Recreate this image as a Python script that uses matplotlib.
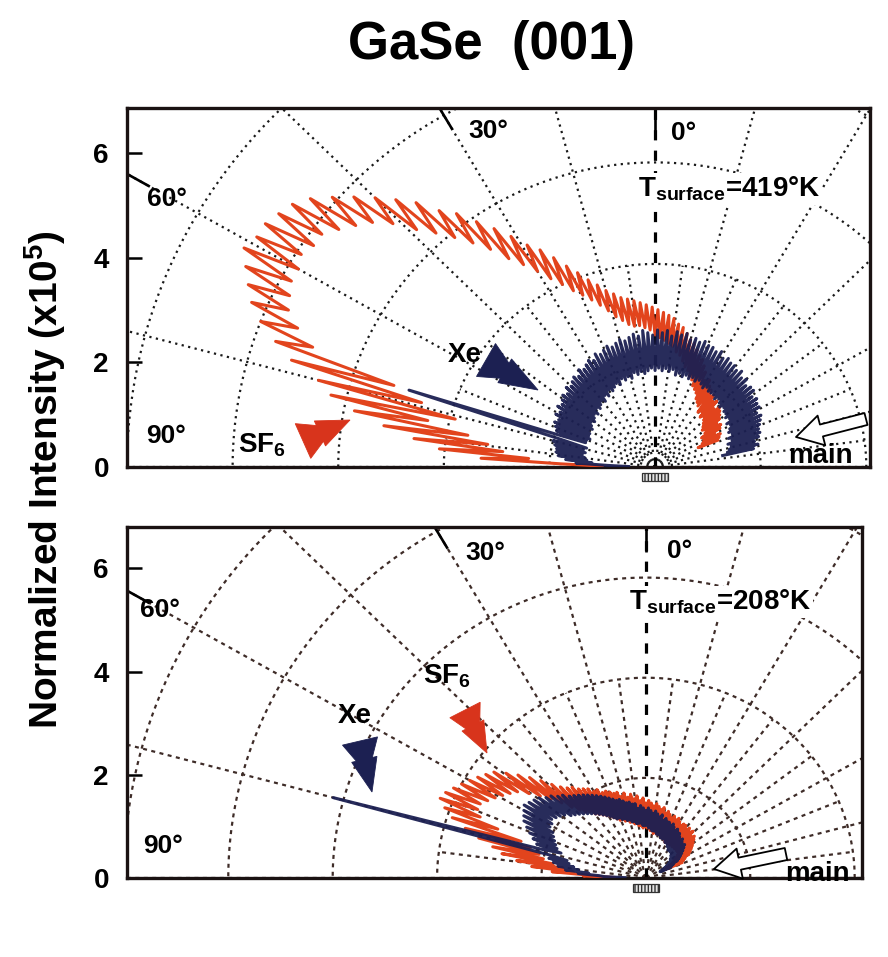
#!/usr/bin/env python3
"""plot.py – Xe / SF6 angular distributions scattered from GaSe(001).

Two polar lobes drawn on a rectangular frame, one panel per surface
temperature.  Values were read off the scanned figure by eye.
"""

import numpy as np
import matplotlib
matplotlib.use("Agg")
import matplotlib.pyplot as plt
from matplotlib.patches import Polygon, Rectangle, FancyArrowPatch

# --------------------------------------------------------------------------- #
# Data: angle from the surface normal (deg, + towards the 90 deg side) and   #
# scattered intensity in grid units (x10^5), one sample per degree.          #
# --------------------------------------------------------------------------- #
THETA_419_SF6 = np.arange(-66, 90)
R_419_SF6 = [
    1.3, 0.9, 1.35, 1.0, 1.4, 1.05, 1.3, 1.1, 1.45, 1.05, 1.5, 1.15, 1.45, 1.2, 1.55, 1.15,
    1.6, 1.2, 1.65, 1.25, 1.7, 1.3, 1.6, 1.35, 1.75, 1.3, 1.7, 1.4, 1.8, 1.35, 1.75,
    1.85, 1.45, 1.9, 1.5, 2.0, 1.55, 1.95, 1.65, 2.1, 1.7, 2.2, 1.75, 2.3, 1.85, 2.35,
    1.9, 2.45, 2.0, 2.55, 2.05, 2.6, 2.15, 2.7, 2.25, 2.8, 2.3, 2.85, 2.4, 2.95, 2.45,
    3.0, 2.5, 3.05, 2.55, 3.1, 2.6, 3.15, 2.7, 3.2, 2.75, 3.25, 2.8, 3.3, 2.8, 3.35,
    2.85, 3.4, 2.95, 3.5, 3.05, 3.6, 3.2, 3.75, 3.35, 3.9, 3.5, 4.1, 3.65, 4.3, 3.8,
    4.55, 4.0, 4.8, 4.2, 5.0, 4.45, 5.3, 4.7, 5.6, 4.95, 5.9, 5.3, 6.25, 5.6, 6.5,
    5.9, 6.9, 6.2, 7.2, 6.5, 7.5, 6.9, 7.8, 7.2, 8.1, 7.4, 8.4, 7.6, 8.6, 7.8,
    8.7, 7.8, 8.8, 7.9, 8.8, 7.8, 8.9, 7.8, 8.7, 7.7, 8.5, 7.6, 8.3, 7.3, 8.0,
    6.9, 7.6, 5.2, 7.2, 4.6, 6.6, 3.9, 6.3, 4.4, 5.8,
    3.6, 5.2, 3.2, 4.6, 2.9, 4.1, 2.4, 3.3, 1.8, 1.0,
]

THETA_419_XE = np.arange(-80, 90)
R_419_XE = [
    1.3, 1.9, 1.4, 2.0, 1.45, 1.95, 1.5, 2.05, 1.45, 2.1, 1.55, 2.1, 1.5, 2.15, 1.6,
    2.2, 1.55, 2.25, 1.6, 2.2, 1.65, 2.3, 1.6, 2.3, 1.7, 2.35, 1.65, 2.3, 1.7, 2.4,
    1.7, 2.4, 1.75, 2.35, 1.7, 2.45, 1.75, 2.4, 1.8, 2.5, 1.75, 2.45, 1.8, 2.5, 1.8,
    2.5, 1.8, 2.55, 1.85, 2.5, 1.8, 2.6, 1.85, 2.55, 1.9, 2.6, 1.85, 2.6, 1.9, 2.65,
    1.85, 2.6, 1.9, 2.65, 1.85, 2.6, 1.9, 2.7, 1.85, 2.65, 1.95, 2.7, 1.9, 2.6, 1.95,
    2.7, 1.9, 2.65, 1.95, 2.7, 1.9, 2.6, 1.95, 2.65, 1.9, 2.7, 1.85, 2.6, 1.9, 2.65,
    1.85, 2.6, 1.9, 2.55, 1.8, 2.6, 1.85, 2.55, 1.8, 2.5, 1.85, 2.55, 1.75, 2.5, 1.8,
    2.45, 1.75, 2.5, 1.7, 2.4, 1.75, 2.45, 1.65, 2.4, 1.7, 2.35, 1.6, 2.4, 1.65, 2.3,
    1.6, 2.35, 1.55, 2.3, 1.6, 2.25, 1.5, 2.3, 1.55, 2.2, 1.5, 2.25, 1.45, 2.2, 1.5,
    2.15, 1.45, 2.2, 1.4, 2.1, 1.45, 2.15, 1.4, 2.05, 1.4, 2.1, 1.35, 2.05, 1.4, 2.0,
    1.4, 2.0, 4.9, 1.9, 1.35, 2.0, 1.4, 1.95, 1.35, 1.9,
    1.4, 1.9, 1.35, 1.85, 1.3, 1.7, 1.2, 1.5, 0.9, 0.5,
]

THETA_208_SF6 = np.arange(-66, 90)
R_208_SF6 = [
    0.75, 0.4, 0.8, 0.45, 0.85, 0.55, 0.95, 0.6, 1.0, 0.65, 1.05, 0.7, 1.1, 0.75, 1.15, 0.8,
    1.2, 0.8, 1.25, 0.8, 1.2, 0.85, 1.3, 0.8, 1.25, 0.85, 1.3, 0.8, 1.25, 0.85, 1.3,
    0.8, 1.3, 0.85, 1.25, 0.8, 1.3, 0.85, 1.35, 0.8, 1.3, 0.85, 1.35, 0.85, 1.3, 0.9,
    1.35, 0.85, 1.4, 0.9, 1.35, 0.9, 1.45, 0.9, 1.4, 0.95, 1.45, 0.9, 1.5, 0.95, 1.45,
    0.95, 1.5, 1.0, 1.55, 1.0, 1.5, 1.05, 1.6, 1.0, 1.55, 1.05, 1.65, 1.05, 1.6, 1.1,
    1.7, 1.1, 1.65, 1.15, 1.75, 1.15, 1.7, 1.2, 1.8, 1.2, 1.8, 1.25, 1.85, 1.25, 1.9,
    1.3, 1.9, 1.35, 2.0, 1.4, 2.0, 1.45, 2.1, 1.5, 2.15, 1.55, 2.2, 1.6, 2.3, 1.7,
    2.35, 1.75, 2.45, 1.85, 2.6, 2.0, 2.8, 2.2, 3.0, 2.4, 3.2, 2.6, 3.4, 2.8, 3.6,
    3.0, 3.7, 3.1, 3.8, 3.2, 3.9, 3.3, 4.0, 3.4, 4.1, 3.5, 4.2, 3.5, 4.25, 3.4,
    4.1, 3.0, 3.9, 2.5, 3.6, 2.3, 3.3, 2.1, 3.0, 2.0,
    2.8, 1.8, 2.5, 1.6, 2.2, 1.4, 1.8, 1.1, 1.2, 0.6,
]

THETA_208_XE = np.arange(-66, 90)
R_208_XE = [
    0.5, 0.3, 0.55, 0.35, 0.6, 0.4, 0.7, 0.45, 0.75, 0.5, 0.8, 0.55, 0.85, 0.6, 0.9, 0.6,
    0.95, 0.65, 1.0, 0.65, 0.95, 0.7, 1.0, 0.7, 1.05, 0.7, 1.0, 0.75, 1.05, 0.7, 1.1,
    0.75, 1.1, 0.75, 1.15, 0.8, 1.1, 0.8, 1.15, 0.8, 1.2, 0.85, 1.15, 0.85, 1.2, 0.85,
    1.2, 0.85, 1.25, 0.9, 1.2, 0.9, 1.3, 0.9, 1.25, 0.95, 1.3, 0.95, 1.35, 0.95, 1.3,
    1.0, 1.35, 1.0, 1.4, 1.05, 1.35, 1.05, 1.4, 1.05, 1.45, 1.1, 1.4, 1.1, 1.5, 1.1,
    1.5, 1.15, 1.55, 1.15, 1.55, 1.2, 1.6, 1.2, 1.65, 1.25, 1.65, 1.25, 1.7, 1.3, 1.75,
    1.3, 1.8, 1.35, 1.85, 1.4, 1.9, 1.45, 1.95, 1.5, 2.0, 1.55, 2.05, 1.6, 2.1, 1.65,
    2.15, 1.7, 2.2, 1.75, 2.3, 1.8, 2.35, 1.85, 2.45, 1.9, 2.5, 2.0, 2.6, 2.05, 2.65,
    2.1, 2.7, 2.15, 2.75, 2.1, 2.7, 2.1, 2.65, 2.0, 2.6, 1.95, 2.5, 1.9, 2.4, 1.85,
    2.3, 1.8, 2.2, 1.7, 2.1, 6.2, 1.9, 1.55, 1.9, 1.5,
    1.8, 1.4, 1.7, 1.3, 1.55, 1.1, 1.3, 0.9, 0.8, 0.4,
]

Y_TICKS = [0, 2, 4, 6]
ANGLE_LABELS = ["0°", "30°", "60°", "90°"]
TEMPERATURES = ["419", "208"]

# --------------------------------------------------------------------------- #
# Layout / style                                                              #
# --------------------------------------------------------------------------- #
W_PX, H_PX, DPI = 888, 957, 100
SQUASH = 0.97                     # the scanned polar grid is a touch flattened
RED, NAVY = "#e2441d", "#1c2052"
GRID_RADII = [2, 4, 6, 8, 10]
SPOKES_MAIN = np.arange(-90, 91, 15)
SPOKES_FINE = np.arange(-82.5, 90, 15)

# per panel: frame (pixels: left, top, right, bottom), limits, grid look
PANELS = [
    dict(frame=(127, 108, 870, 467), xlim=(-10.0, 4.07), ylim=(0, 6.86),
         grid_color="#1a1a1a", grid_ls=(0, (1, 2.0))),
    dict(frame=(127, 527, 862, 878), xlim=(-9.94, 4.14), ylim=(0, 6.8),
         grid_color="#3e2c28", grid_ls=(0, (1.8, 2.0))),
]

# annotation positions in image pixels (x, y from top-left)
LABEL_POS = [
    {"0°": (684, 133), "30°": (488, 131), "60°": (167, 199), "90°": (166, 436),
     "T": (729, 189), "Xe": (465, 355), "SF6": (262, 445), "main": (820, 456)},
    {"0°": (680, 551), "30°": (485, 553), "60°": (160, 610), "90°": (163, 846),
     "T": (720, 602), "Xe": (355, 716), "SF6": (447, 676), "main": (817, 874)},
]
# (tail, tip, width) of the filled "fast-forward" arrows
FF_ARROWS = [
    {"Xe": ((486, 360), (538, 390), 38), "SF6": ((303, 441), (350, 420), 38)},
    {"Xe": ((360, 741), (372, 792), 36), "SF6": ((465, 710), (487, 753), 34)},
]
# (tail, tip) of the open "main beam" arrows
MAIN_ARROWS = [((866, 419), (796, 437)), ((786, 854), (714, 869))]


def _inch(p):
    """image pixel (x, y-down) -> figure inches (x, y-up)"""
    return (p[0] / DPI, (H_PX - p[1]) / DPI)


def _xy(theta_deg, r):
    t = np.radians(np.asarray(theta_deg, dtype=float))
    r = np.asarray(r, dtype=float)
    return -r * np.sin(t), SQUASH * r * np.cos(t)


def _exit_radius(theta_deg, xlim, ymax):
    t = np.radians(theta_deg)
    rs = []
    if np.sin(t) > 1e-6:
        rs.append(-xlim[0] / np.sin(t))
    if np.sin(t) < -1e-6:
        rs.append(xlim[1] / -np.sin(t))
    if np.cos(t) > 1e-6:
        rs.append(ymax / (SQUASH * np.cos(t)))
    return min(rs)


def _draw_grid(ax, cfg):
    kw = dict(color=cfg["grid_color"], ls=cfg["grid_ls"], lw=1.6, zorder=1)
    arc = np.linspace(-90, 90, 721)
    for rr in GRID_RADII:
        ax.plot(*_xy(arc, np.full_like(arc, rr)), **kw)
    for th in SPOKES_MAIN:
        if th == 0:
            continue
        ax.plot(*_xy([th, th], [0, 13]), **kw)
    for th in SPOKES_FINE:
        ax.plot(*_xy([th, th], [0.3, 4]), **kw)

    # surface normal
    ax.plot(*_xy([0, 0], [0, 7.2]), color="black", lw=2.3,
            ls=(0, (3.2, 3.2)), zorder=2)
    # solid angle ticks at the frame
    for th in (0, 30, 60):
        re = _exit_radius(th, cfg["xlim"], cfg["ylim"][1])
        ax.plot(*_xy([th, th], [re - 0.5, re]), color="black", lw=1.9,
                solid_capstyle="butt", zorder=2)


def _ff_arrow(fig, tail, tip, width, color):
    tail = np.array(_inch(tail))
    tip = np.array(_inch(tip))
    w = width / DPI
    d = tip - tail
    L = np.hypot(*d)
    u = d / L
    n = np.array([-u[1], u[0]])
    tri1 = [tail + n * w / 2, tail - n * w / 2, tail + u * 0.66 * L]
    mid = tail + u * 0.36 * L
    tri2 = [mid + n * w * 0.36, mid - n * w * 0.36, tip]
    for tri in (tri1, tri2):
        fig.add_artist(Polygon(tri, closed=True, fc=color, ec=color, lw=0.6,
                               transform=fig.dpi_scale_trans, zorder=8))


def _main_arrow(fig, tail, tip):
    arr = FancyArrowPatch(
        _inch(tail), _inch(tip),
        arrowstyle="simple,head_length=0.9,head_width=1.05,tail_width=0.42",
        mutation_scale=21, fc="white", ec="black", lw=1.3,
        shrinkA=0, shrinkB=0, transform=fig.dpi_scale_trans, zorder=8)
    fig.add_artist(arr)


def main():
    plt.rcParams.update({
        "font.family": ["Liberation Sans", "DejaVu Sans"],
        "font.weight": "bold",
        "mathtext.default": "regular",
    })

    fig = plt.figure(figsize=(W_PX / DPI, H_PX / DPI), dpi=DPI)
    fig.patch.set_facecolor("white")

    curves = [
        ((THETA_419_SF6, R_419_SF6), (THETA_419_XE, R_419_XE)),
        ((THETA_208_SF6, R_208_SF6), (THETA_208_XE, R_208_XE)),
    ]

    def txt(p, s, size, **kw):
        fig.text(*_inch(p), s, transform=fig.dpi_scale_trans, ha="center",
                 va="center", fontsize=size, fontweight="bold", zorder=9, **kw)

    for i, cfg in enumerate(PANELS):
        l, t, r, b = cfg["frame"]
        ax = fig.add_axes([l / W_PX, 1 - b / H_PX, (r - l) / W_PX, (b - t) / H_PX])
        ax.set_xlim(*cfg["xlim"])
        ax.set_ylim(*cfg["ylim"])
        ax.set_xticks([])
        ax.set_yticks(Y_TICKS)
        ax.set_yticklabels([str(v) for v in Y_TICKS])
        ax.tick_params(axis="y", direction="in", length=11, width=1.8,
                       labelsize=20, pad=13)
        for sp in ax.spines.values():
            sp.set_linewidth(2.4)
            sp.set_color("#1a1212")

        _draw_grid(ax, cfg)

        (th_s, r_s), (th_x, r_x) = curves[i]
        ax.plot(*_xy(th_s, r_s), color=RED, lw=2.2, zorder=3)
        ax.plot(*_xy(th_x, r_x), color=NAVY, lw=2.2, alpha=0.95, zorder=4)

        # the sample, sitting just under the frame
        ax.add_patch(Rectangle((-0.25, -0.27), 0.5, 0.15, clip_on=False,
                               fc="#e4e4e4", ec="#333333", lw=0.9,
                               hatch="|||||", zorder=5))

        pos = LABEL_POS[i]
        for lab in ANGLE_LABELS:
            txt(pos[lab], lab, 19)
        txt(pos["T"], r"T$_{surface}$=" + TEMPERATURES[i] + "°K", 20,
            bbox=dict(fc="white", ec="none", pad=1.0))
        txt(pos["Xe"], "Xe", 20)
        txt(pos["SF6"], r"SF$_6$", 20)
        txt(pos["main"], "main", 20)

        _ff_arrow(fig, *FF_ARROWS[i]["Xe"], NAVY)
        _ff_arrow(fig, *FF_ARROWS[i]["SF6"], "#d8341c")
        _main_arrow(fig, *MAIN_ARROWS[i])

    fig.text(0.554, 1 - 45 / H_PX, "GaSe  (001)", ha="center", va="center",
             fontsize=38, fontweight="bold")
    fig.text(45 / W_PX, 1 - 480 / H_PX, r"Normalized Intensity (x10$^5$)",
             rotation=90, ha="center", va="center", fontsize=28,
             fontweight="bold")

    fig.savefig("out.png", dpi=DPI, facecolor="white")


if __name__ == "__main__":
    main()
